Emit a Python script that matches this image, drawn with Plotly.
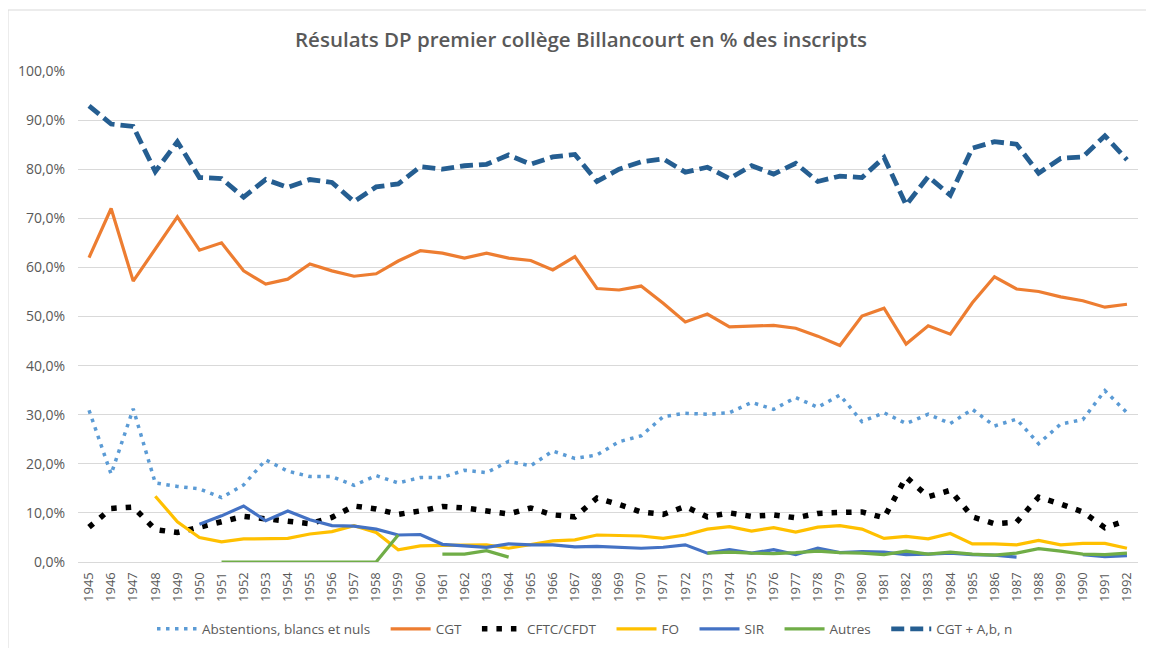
import plotly.graph_objects as go

years = [str(y) for y in range(1945, 1993)]

abstentions = [30.9, 17.9, 31.2, 16.1, 15.4, 14.9, 13.1, 15.7, 20.8, 18.5,
               17.4, 17.4, 15.6, 17.6, 16.1, 17.2, 17.2, 18.7, 18.2, 20.5,
               19.6, 22.6, 21.1, 21.8, 24.5, 25.7, 29.6, 30.3, 30.1, 30.4,
               32.5, 31.1, 33.5, 31.5, 34.0, 28.6, 30.4, 28.2, 30.1, 28.2,
               31.1, 27.7, 29.1, 24.1, 28.1, 29.0, 34.9, 30.4]

cgt = [62.0, 72.0, 57.2, 63.7, 70.3, 63.5, 65.0, 59.3, 56.6, 57.6,
       60.7, 59.3, 58.2, 58.7, 61.3, 63.4, 62.9, 61.9, 62.9, 61.9,
       61.4, 59.5, 62.2, 55.7, 55.4, 56.2, 52.7, 48.9, 50.5, 47.9,
       48.0, 48.2, 47.6, 46.0, 44.1, 50.1, 51.7, 44.4, 48.1, 46.4,
       52.8, 58.1, 55.6, 55.1, 54.0, 53.2, 51.9, 52.5]

cftc_cfdt = [7.1, 10.9, 11.2, 6.6, 6.0, 7.1, 8.3, 9.3, 8.8, 8.3,
             7.8, 9.1, 11.4, 10.8, 9.7, 10.4, 11.3, 11.0, 10.5, 9.8,
             11.0, 9.6, 9.2, 13.0, 11.7, 10.2, 9.7, 11.3, 9.2, 10.0,
             9.3, 9.6, 9.0, 9.9, 10.1, 10.2, 9.0, 17.3, 13.3, 14.6,
             9.2, 7.8, 8.1, 13.2, 11.8, 10.2, 7.0, 8.5]

fo = [None, None, None, 13.4, 8.2, 5.0, 4.1, 4.7, 4.7, 4.8,
      5.7, 6.2, 7.4, 6.0, 2.5, 3.3, 3.4, 3.5, 3.5, 2.8,
      3.6, 4.3, 4.5, 5.5, 5.4, 5.3, 4.8, 5.5, 6.7, 7.2,
      6.3, 7.0, 6.1, 7.1, 7.4, 6.7, 4.8, 5.2, 4.7, 5.8,
      3.7, 3.7, 3.5, 4.4, 3.5, 3.8, 3.8, 2.8]

sir = [None, None, None, None, None, 7.7, 9.4, 11.4, 8.4, 10.4,
       8.6, 7.4, 7.3, 6.7, 5.5, 5.6, 3.6, 3.3, 3.0, 3.7,
       3.5, 3.5, 3.1, 3.2, 3.0, 2.8, 3.0, 3.5, 1.8, 2.5,
       1.8, 2.5, 1.5, 2.8, 1.9, 2.1, 2.0, 1.5, 1.6, 1.8,
       1.5, 1.4, 1.0, None, None, 1.5, 1.1, 1.3]

autres = [None, None, None, None, None, None, 0.0, 0.0, 0.0, 0.0,
          0.0, 0.0, 0.0, 0.0, 5.5, None, 1.6, 1.6, 2.3, 1.0,
          None, None, None, None, None, None, None, None, 1.8, 2.0,
          1.8, 1.7, 1.9, 2.2, 1.9, 1.8, 1.5, 2.2, 1.6, 2.0,
          1.6, 1.4, 1.8, 2.7, 2.2, 1.6, 1.5, 1.8]

cgt_abn = [92.9, 89.2, 88.7, 79.5, 85.6, 78.3, 78.1, 74.3, 77.9, 76.3,
           77.9, 77.3, 73.4, 76.4, 77.0, 80.5, 80.0, 80.7, 81.0, 82.9,
           81.0, 82.5, 83.0, 77.5, 80.0, 81.5, 82.1, 79.4, 80.4, 78.1,
           80.7, 79.0, 81.2, 77.5, 78.6, 78.3, 82.4, 72.7, 78.5, 74.7,
           84.3, 85.6, 85.1, 79.2, 82.2, 82.5, 86.8, 81.9]

yticks = [0, 10, 20, 30, 40, 50, 60, 70, 80, 90, 100]
yticklabels = ["0,0%", "10,0%", "20,0%", "30,0%", "40,0%", "50,0%",
               "60,0%", "70,0%", "80,0%", "90,0%", "100,0%"]

FONT = "'Open Sans', 'Noto Sans', sans-serif"
GRAY = "#595959"
PAD = "\u00a0\u00a0\u00a0"

# the page body has an 8px default margin; the figure is sized to fit the window
W, H = 1146, 640
ML, MR, MT, MB = 70, 16, 63, 86
PW = W - ML - MR
PH = H - MT - MB

series = [
    ("Abstentions, blancs et nuls", abstentions, "#5B9BD5", 3.5, "3.5px,5.5px"),
    ("CGT", cgt, "#ED7D31", 3.2, "solid"),
    ("CFTC/CFDT", cftc_cfdt, "#000000", 5.5, "5.5px,9px"),
    ("FO", fo, "#FFC000", 3.2, "solid"),
    ("SIR", sir, "#4472C4", 3.2, "solid"),
    ("Autres", autres, "#70AD47", 3.2, "solid"),
    ("CGT + A,b, n", cgt_abn, "#255E91", 4.8, "13px,6px"),
]

fig = go.Figure()
for i, (name, vals, color, width, dash) in enumerate(series):
    label = name if i == len(series) - 1 else name + PAD
    fig.add_trace(go.Scatter(
        x=years, y=vals, name=label, mode="lines",
        line=dict(color=color, width=width, dash=dash),
        connectgaps=False,
    ))

fig.update_layout(
    width=W, height=H,
    paper_bgcolor="white", plot_bgcolor="white",
    margin=dict(l=ML, r=MR, t=MT, b=MB, autoexpand=False),
    font=dict(family=FONT, color=GRAY, size=13),
    title=dict(text="Résulats DP premier collège Billancourt en % des inscripts",
               x=0.5, xref="container", xanchor="center",
               y=1 - 32 / H, yref="container", yanchor="middle",
               font=dict(family=FONT, size=20.5, color=GRAY, weight=600)),
    showlegend=True,
    legend=dict(orientation="h", x=(577 - ML) / PW, xanchor="center",
                y=1 - 621 / H, yref="container", yanchor="middle",
                font=dict(family=FONT, size=13.5, color=GRAY),
                itemwidth=40, tracegroupgap=0),
    xaxis=dict(type="category", tickangle=-90, showgrid=False, showline=False,
               automargin=False, range=[-0.5, len(years) - 0.5],
               ticks="outside", ticklen=4, tickcolor="rgba(0,0,0,0)",
               tickfont=dict(size=13, color=GRAY)),
    yaxis=dict(range=[0, 100], tickvals=yticks, ticktext=yticklabels,
               automargin=False,
               showgrid=True, gridcolor="#D9D9D9", gridwidth=1,
               zeroline=True, zerolinecolor="#D9D9D9", zerolinewidth=1,
               showline=False, ticks="outside", ticklen=9,
               tickcolor="rgba(0,0,0,0)",
               tickfont=dict(size=14, color=GRAY)),
    shapes=[dict(type="rect", xref="paper", yref="paper",
                 x0=-ML / PW, x1=1.03, y0=-0.2, y1=1 + (MT - 2) / PH,
                 line=dict(color="#D9D9D9", width=1), fillcolor="rgba(0,0,0,0)",
                 layer="below")],
)

fig.write_html("out.html")
